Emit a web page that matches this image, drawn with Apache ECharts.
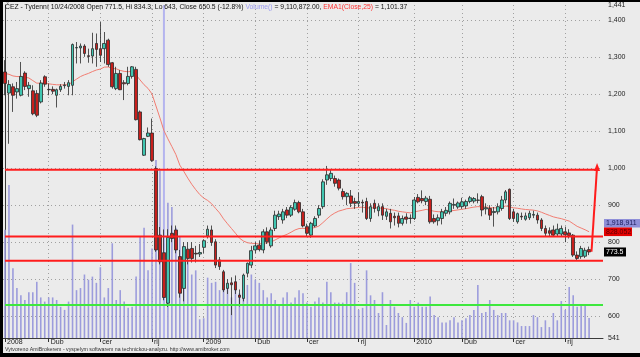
<!DOCTYPE html>
<html><head><meta charset="utf-8">
<script src="https://cdn.jsdelivr.net/npm/echarts@6/dist/echarts.min.js"></script>
<style>html,body{margin:0;padding:0;background:#ebebeb;}#c{width:640px;height:357px;}</style>
</head><body><div id="c"></div>
<script>
// ---- data (weekly bars, first bar = week ending 01/18/2008) ----
const firstWeek = [2008, 0, 18];
const extraSlots = 3;
const openP = [1260,1203,1220,1206,1197,1257,1215,1209,1202,1179,1247,1213,1213,1197,1212,1223,1221,1224,1325,1325,
1330,1304,1303,1337,1323,1323,1346,1285,1215,1256,1231,1229,1248,1267,1152,1035,1086,1095,999,819,
771.5,635,824,833,761,675,781,783,770,768,786,817,833,801,752,720,675,690,693,657,
648,716,738,779,792,779,828,790,837,869,860,887,873,889,907,882,842,819,844,873,
896,968,972,972,968,937,923,925,910,905,908,910,864,905,885,896,870,878,870,871,
851,868,865,864,921,918,910,916,864,858,864,878,882,900,895,896,898,910,911,914,
923,890,891,880,882,891,914,943,882,855,870,862,866,873,873,860,837,831,833,822,
822,828,825,819,765,761,762,780];
const highP = [1292,1238,1229,1233,1287,1262,1233,1224,1211,1238,1251,1229,1221,1215,1227,1233,1238,1337,1341,1337,
1335,1323,1366,1364,1395,1368,1350,1287,1274,1265,1238,1274,1276,1274,1156,1082,1110,1134,1005,841,
834.3,835,845,845,779,800,800,800,790,795,808,845,845,808,760,725,700,705,710,672,
715,745,790,800,805,835,840,840,885,885,890,895,900,915,912,890,850,855,870,900,
970,1006,995,980,972,945,935,941,920,935,915,920,905,915,905,905,890,890,880,880,
872,878,875,922,930,940,925,925,875,875,890,895,910,918,910,920,915,925,922,932,
928,905,900,895,905,925,941,945,890,880,880,880,885,885,880,865,845,840,845,850,
845,842,835,822,775,790,785,788];
const lowP = [1197,1066,1152,1188,1194,1211,1193,1143,1138,1175,1220,1197,1200,1164,1206,1215,1197,1197,1283,1283,
1301,1285,1283,1274,1287,1283,1274,1215,1211,1211,1184,1224,1242,1129,1075,1033,1084,1017,774,740,
643,625,800,770,650,640,740,745,745,760,770,810,790,730,725,665,660,603,660,626,
640,705,730,770,775,770,795,785,830,860,850,865,868,885,878,840,815,812,840,865,
890,955,965,950,940,915,900,895,890,895,880,860,855,880,870,860,860,837,845,840,
845,850,850,860,905,905,900,850,850,845,848,870,875,890,890,890,890,905,905,905,
870,875,860,842,875,885,905,860,855,850,860,858,860,865,850,830,815,815,815,815,
815,800,810,760,750,755,757,765];
const closeP = [1229,1226,1197,1215,1248,1221,1224,1147,1143,1230,1227,1212,1208,1212,1221,1225,1231,1334,1326,1330,
1310,1302,1323,1321,1305,1337,1280,1220,1256,1212,1228,1248,1274,1131,1077,1080,1095,1021,779,747,
650.5,813,810,779,662,788,756,756,768,772,804,835,799,738,734,671,689,685,671,651,
711,743,777,790,780,828,801,833,873,876,882,873,894,907,882,844,824,851,864,891,
963,982,986,959,946,923,932,905,905,910,906,864,896,891,896,873,882,855,866,851,
864,862,864,914,909,912,919,855,855,866,882,886,905,902,906,909,910,920,918,913,
887,893,873,883,896,914,936,864,864,877,868,871,878,875,860,837,824,824,819,835,
837,820,818,765,756,783,778,773.5];
// volume in millions of shares
const volumeM = [10.4,14.7,6.7,4.8,4.1,3.65,4.4,4.4,5.4,3.9,3.5,3.9,3.9,3.65,3.0,2.7,3.5,10.9,4.6,4.8,
6.1,5.6,5.9,5.3,6.8,3.9,4.8,9.1,3.65,4.6,3.5,2.9,3.0,5.9,9.7,10.6,6.5,8.6,17.1,16.1,
9.11,13.0,12.6,10.6,9.7,8.5,7.5,6.1,6.5,1.8,1.9,5.8,5.3,5.4,4.6,5.3,4.9,3.9,5.4,4.3,
5.9,5.1,6.1,5.6,5.3,4.6,3.9,4.3,3.65,3.2,3.9,4.4,3.4,3.9,4.6,4.3,3.4,3.0,3.5,3.9,
3.4,5.4,4.4,3.4,3.4,3.4,4.4,7.2,5.3,2.7,2.9,6.5,4.1,3.65,2.4,4.4,1.25,3.65,3.0,2.4,
2.0,1.45,3.65,3.0,3.4,3.0,3.0,4.0,2.2,2.0,1.5,1.5,1.7,2.0,1.5,1.7,1.9,2.2,2.7,5.1,
2.4,2.5,3.65,2.7,2.2,2.4,2.4,1.7,1.7,1.5,1.15,1.15,1.15,2.2,2.0,1.05,1.7,1.05,2.4,1.7,
3.55,2.7,4.9,4.1,3.0,3.1,3.2,1.92];
const ema25 = [1256.0,1253.7,1249.3,1247.6,1247.6,1245.6,1243.9,1236.7,1229.8,1229.8,1229.6,1228.0,1226.5,1225.4,1225.1,1225.1,1225.6,1233.6,1240.7,1247.6,
1252.4,1256.1,1261.1,1265.3,1267.9,1273.1,1273.6,1269.5,1268.5,1264.2,1261.6,1260.7,1261.7,1251.7,1238.3,1225.5,1215.6,1200.6,1168.0,1135.6,
1101.4,1079.2,1058.5,1037.0,1008.2,991.3,973.2,956.5,942.0,928.9,919.3,912.8,904.0,891.2,879.1,863.1,849.7,837.0,824.2,810.9,
803.2,798.6,796.9,796.4,795.1,797.6,797.9,800.6,806.2,811.6,817.0,821.3,826.9,833.1,836.8,837.4,836.4,837.5,839.5,843.5,
852.7,862.6,872.1,878.8,884.0,887.0,890.4,891.5,892.6,893.9,894.8,892.4,892.7,892.6,892.8,891.3,890.6,887.9,886.2,883.5,
882.0,880.5,879.2,881.9,884.0,886.1,888.6,886.0,883.6,882.3,882.3,882.6,884.3,885.7,887.2,888.9,890.5,892.8,894.7,896.1,
895.4,895.2,893.5,892.7,892.9,894.6,897.8,895.2,892.8,891.6,889.8,888.3,887.5,886.6,884.5,880.9,876.5,872.5,868.4,865.8,
863.6,860.2,857.0,849.9,842.7,838.1,833.5,828.1];
const tickIdx  = [0,11,24,37,50,63,76,89,103,115,128,141];
const tickText = ['2008','Dub','cer','rij','2009','Dub','cer','rij','2010','Dub','cer','rij'];
const yLabelVals = [541,600,700,800,900,1000,1100,1200,1300,1400,1441];
const yGridVals  = [600,700,800,900,1000,1100,1200,1300,1400];
const cursorIdx = 40;
const resistLevel = 996;
const redLevels = [815, 750];
const greenLevel = 630;
const arrowFrom = [147.6, 774];
const arrowTo = [149, 1003];
const headerMain = 'ČEZ - Tydenní 10/24/2008 Open 771.5, Hi 834.3, Lo 643, Close 650.5 (-12.8%) ';
const headerVol = 'Volume()';
const headerVolVal = ' = 9,110,872.00, ';
const headerEma = 'EMA1(Close,25)';
const headerEmaVal = ' = 1,101.37';
const footerText = 'Vytvoreno AmiBrokerem - vyspelym softwarem na technickou-analyzu. http://www.amibroker.com';
const lastVolText = '1,918,911';
const lastEmaText = '828.052';
const lastCloseText = '773.5';

// ---- build ----
const n = closeP.length;
const categories = [];
for (let i = 0; i < n; i++) {
  const d = new Date(Date.UTC(firstWeek[0], firstWeek[1], firstWeek[2] + 7 * i));
  categories.push((d.getUTCMonth()+1) + '/' + d.getUTCDate() + '/' + d.getUTCFullYear());
}
for (let k = 0; k < extraSlots; k++) categories.push(' ' + k);
const nSlots = categories.length;
const candles = openP.map((o, i) => [o, closeP[i], lowP[i], highP[i]]);
const vols = volumeM.map(v => v * 1e6);
const isTick = (i) => tickIdx.indexOf(i) >= 0;
const F = "'Liberation Sans', Arial, sans-serif";
const fmt = v => v >= 1000 ? Math.floor(v/1000) + ',' + String(v % 1000).padStart(3,'0') : String(v);

const chart = echarts.init(document.getElementById('c'), null, {renderer:'canvas', width:640, height:357});
const option = {
  animation: false,
  backgroundColor: '#ebebeb',
  grid: {left: 3, top: 5, width: 600, height: 333, show: true, backgroundColor: '#ebebeb', borderWidth: 0},
  xAxis: [{
    type: 'category', data: categories, boundaryGap: true,
    axisLine: {show: true, onZero: false, lineStyle: {color: '#3a3a3a', width: 1}},
    axisTick: {show: true, alignWithLabel: true, interval: (i) => isTick(i), length: 4, lineStyle: {color: '#333'}},
    axisLabel: {show: true, interval: (i) => isTick(i), formatter: (v, i) => tickText[tickIdx.indexOf(i)] || '',
      align: 'left', margin: 1, fontSize: 7, color: '#222', fontFamily: F, padding: [0,0,0,2]},
    splitLine: {show: true, alignWithLabel: true, interval: (i) => isTick(i), lineStyle: {color: '#a0a0a0', type: [1,3], width: 1}}
  }, {
    type: 'value', min: -0.5, max: nSlots - 0.5, show: false
  }],
  yAxis: [{
    type: 'value', position: 'right', min: 541, max: 1441, scale: true,
    axisLine: {show: true, lineStyle: {color: '#3a3a3a'}},
    axisTick: {show: false, customValues: yGridVals},
    axisLabel: {customValues: yLabelVals, formatter: v => fmt(v), fontSize: 7, color: '#222', margin: 5, fontFamily: F},
    splitLine: {show: true, lineStyle: {color: '#a0a0a0', type: [1,3], width: 1}}
  }, {
    type: 'value', min: 0, max: 32e6, show: false, splitLine: {show: false}
  }],
  series: [
    {type: 'bar', name: 'Volume', xAxisIndex: 0, yAxisIndex: 1, data: vols, barWidth: 1.6,
      itemStyle: {color: '#9c9cdc'}, z: 1, silent: true},
    {type: 'line', name: 'cursor', xAxisIndex: 1, yAxisIndex: 0, data: [[cursorIdx, 541], [cursorIdx, 1441]],
      symbol: 'none', lineStyle: {color: '#b4b4ee', width: 2}, z: 2, silent: true},
    {type: 'line', name: 'EMA', xAxisIndex: 0, yAxisIndex: 0, data: ema25, symbol: 'none',
      lineStyle: {color: '#f27d72', width: 1}, z: 3, silent: true},
    {type: 'candlestick', name: 'CEZ', xAxisIndex: 0, yAxisIndex: 0, data: candles, barWidth: 3.2,
      itemStyle: {color: '#40c6b1', color0: '#c81f1c', borderColor: '#2a2a2a', borderColor0: '#2a2a2a', borderWidth: 0.8}, z: 4},
    {type: 'line', xAxisIndex: 1, yAxisIndex: 0, data: [[0, resistLevel], [arrowTo[0], resistLevel]], symbol: 'none',
      lineStyle: {color: '#ff1c1c', width: 2}, z: 5, silent: true},
    {type: 'line', xAxisIndex: 1, yAxisIndex: 0, data: [[0, redLevels[0]], [nSlots - 0.5, redLevels[0]]], symbol: 'none',
      lineStyle: {color: '#ff1c1c', width: 2}, z: 5, silent: true},
    {type: 'line', xAxisIndex: 1, yAxisIndex: 0, data: [[0, redLevels[1]], [nSlots - 0.5, redLevels[1]]], symbol: 'none',
      lineStyle: {color: '#ff1c1c', width: 2}, z: 5, silent: true},
    {type: 'line', xAxisIndex: 1, yAxisIndex: 0, data: [[0, greenLevel], [nSlots - 0.5, greenLevel]], symbol: 'none',
      lineStyle: {color: '#3ee83e', width: 2}, z: 5, silent: true},
    {type: 'line', xAxisIndex: 1, yAxisIndex: 0, showSymbol: true,
      data: [{value: arrowFrom, symbol: 'none'}, {value: arrowTo, symbol: 'triangle', symbolSize: [6, 8]}],
      itemStyle: {color: '#ff1c1c'}, lineStyle: {color: '#ff1c1c', width: 2}, z: 6, silent: true}
  ]
};
chart.setOption(option);

const yEma = chart.convertToPixel({yAxisIndex: 0}, ema25[n-1]);
const yClose = chart.convertToPixel({yAxisIndex: 0}, closeP[n-1]);
const txt = (x, y, s, fill, size, extra) => Object.assign({type: 'text', x: x, y: y, z: 100,
  style: {text: s, fill: fill, fontSize: size, fontFamily: F, verticalAlign: 'middle', align: 'left'}}, extra || {});
chart.setOption({graphic: [
  {type: 'rect', shape: {x: 0, y: 0, width: 640, height: 2}, style: {fill: '#000'}, z: 100},
  {type: 'rect', shape: {x: 0, y: 0, width: 3, height: 357}, style: {fill: '#000'}, z: 100},
  {type: 'rect', shape: {x: 0, y: 353, width: 640, height: 4}, style: {fill: '#000'}, z: 100},
  {type: 'text', x: 5, y: 7, z: 100, scaleX: 0.97, style: {
    text: '{k|' + headerMain + '}{v|' + headerVol + '}{k|' + headerVolVal + '}{e|' + headerEma + '}{k|' + headerEmaVal + '}',
    verticalAlign: 'middle',
    rich: {k: {fill: '#111', fontSize: 7, fontFamily: F}, v: {fill: '#9a9af0', fontSize: 7, fontFamily: F}, e: {fill: '#ff3030', fontSize: 7, fontFamily: F}}
  }},
  txt(5, 349.5, footerText, '#333', 5.5, {scaleX: 0.95}),
  {type: 'rect', shape: {x: 604, y: 219, width: 36, height: 8.5}, style: {fill: '#8f8fd8'}, z: 100},
  txt(606, 223.3, lastVolText, '#1a1a5a', 7),
  {type: 'rect', shape: {x: 604, y: yEma - 4.3, width: 28, height: 8.6}, style: {fill: '#e30000'}, z: 100},
  txt(606, yEma, lastEmaText, '#5a0000', 7),
  {type: 'rect', shape: {x: 604, y: yClose - 4.5, width: 22, height: 9}, style: {fill: '#000'}, z: 100},
  txt(606, yClose, lastCloseText, '#fff', 7)
]});
</script>
</body></html>
